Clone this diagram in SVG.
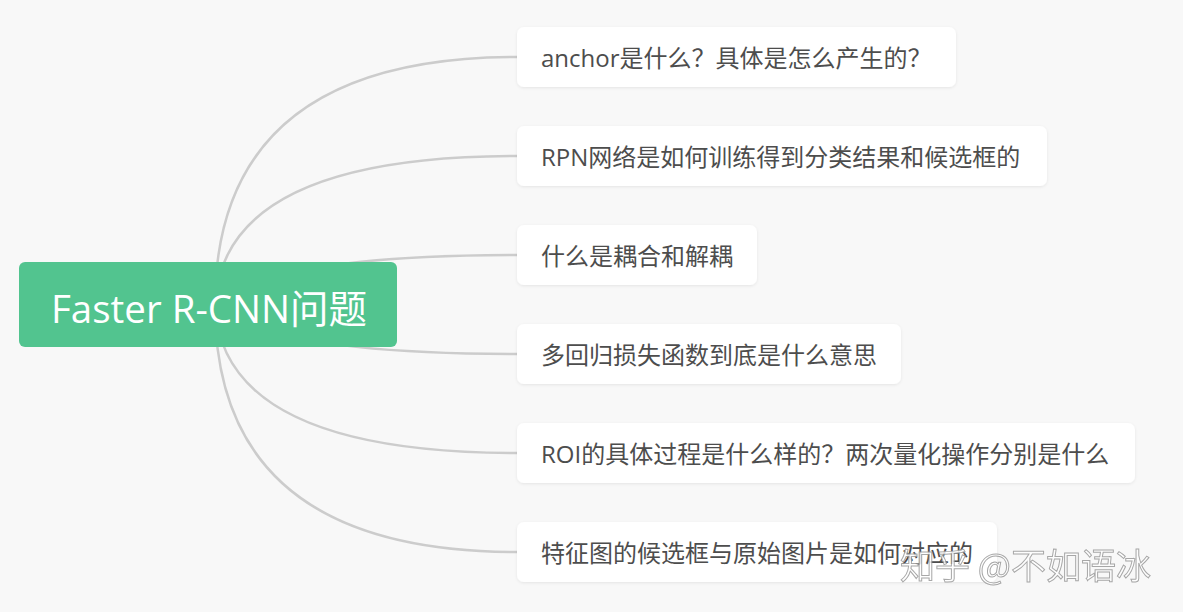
<svg xmlns="http://www.w3.org/2000/svg" width="1183" height="612" viewBox="0 0 1183 612">
<defs>
<filter id="sh" x="-5%" y="-20%" width="110%" height="150%">
<feDropShadow dx="0" dy="1" stdDeviation="1.5" flood-color="#000" flood-opacity="0.08"/>
</filter>
<style>
.c{fill:none;stroke:#cccccc;stroke-width:2.5}
.n{fill:#ffffff;filter:url(#sh)}
.t{font-family:"Open Sans","Noto Sans CJK SC",sans-serif;font-size:24px;fill:#4d4d4d}
.r{font-family:"Open Sans","Noto Sans CJK SC",sans-serif;font-size:38.5px;fill:#ffffff}
.w{font-family:"Noto Sans CJK SC",sans-serif;font-size:35px;fill:#ffffff;stroke:#999999;stroke-width:1;opacity:0.85}
</style>
</defs>
<rect width="1183" height="612" fill="#f8f8f8"/>
<g id="connectors">
<path class="c" d="M215 305 Q215 57 517 57"/>
<path class="c" d="M215 305 Q222 156 517 156"/>
<path class="c" d="M215 305 Q270 255 517 255"/>
<path class="c" d="M215 305 Q270 354 517 354"/>
<path class="c" d="M215 305 Q222 453 517 453"/>
<path class="c" d="M215 305 Q215 552 517 552"/>
</g>
<g id="root">
<rect x="19" y="262" width="378" height="85" rx="6" fill="#52c48f"/>
<text class="r" x="209" y="323" text-anchor="middle">Faster R-CNN问题</text>
</g>
<g id="n1">
<rect class="n" x="517" y="27" width="439" height="60" rx="7"/>
<text class="t" x="541" y="67">anchor是什么？具体是怎么产生的？</text>
</g>
<g id="n2">
<rect class="n" x="517" y="126" width="530" height="60" rx="7"/>
<text class="t" x="541" y="166">RPN网络是如何训练得到分类结果和候选框的</text>
</g>
<g id="n3">
<rect class="n" x="517" y="225" width="240" height="60" rx="7"/>
<text class="t" x="541" y="265">什么是耦合和解耦</text>
</g>
<g id="n4">
<rect class="n" x="517" y="324" width="384" height="60" rx="7"/>
<text class="t" x="541" y="364">多回归损失函数到底是什么意思</text>
</g>
<g id="n5">
<rect class="n" x="517" y="423" width="618" height="60" rx="7"/>
<text class="t" x="541" y="463">ROI的具体过程是什么样的？两次量化操作分别是什么</text>
</g>
<g id="n6">
<rect class="n" x="517" y="522" width="480" height="60" rx="7"/>
<text class="t" x="541" y="562">特征图的候选框与原始图片是如何对应的</text>
</g>
<text class="w" x="900" y="579">知乎 @不如语冰</text>
</svg>
